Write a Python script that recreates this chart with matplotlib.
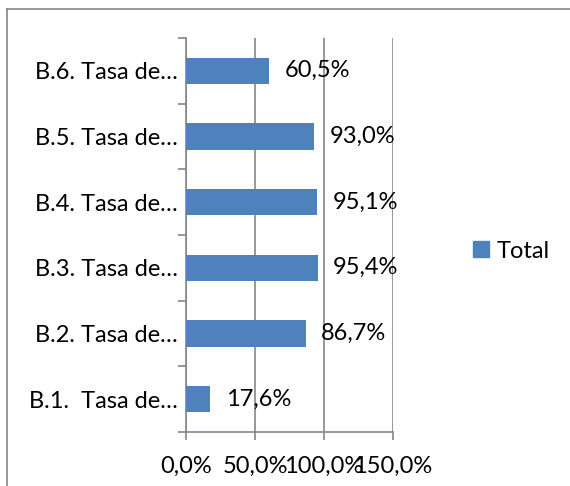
import matplotlib
matplotlib.use('Agg')
import matplotlib.pyplot as plt
from matplotlib.lines import Line2D
from matplotlib.patches import Rectangle

# Chart data (bottom to top, as drawn)
categories = ['B.1.  Tasa de\u2026', 'B.2. Tasa de\u2026', 'B.3. Tasa de\u2026',
              'B.4. Tasa de\u2026', 'B.5. Tasa de\u2026', 'B.6. Tasa de\u2026']
values = [17.6, 86.7, 95.4, 95.1, 93.0, 60.5]
x_ticks = [0, 50, 100, 150]
x_tick_labels = ['0,0%', '50,0%', '100,0%', '150,0%']
series_name = 'Total'

BAR_COLOR = '#4F81BD'
GRID_COLOR = '#868686'
FONT = 'Lato'
FS = 17

plt.rcParams['font.family'] = [FONT, 'DejaVu Sans']

fig = plt.figure(figsize=(5.70, 4.86), dpi=100)
ax = fig.add_axes([186 / 570, 1 - 432 / 486, 207 / 570, 394 / 486])

y = list(range(len(categories)))
ax.barh(y, values, height=0.4, color=BAR_COLOR, zorder=3)

# Data labels to the right of each bar
for yi, v in zip(y, values):
    ax.annotate(('%.1f%%' % v).replace('.', ','), (v, yi), xytext=(11, 0),
                textcoords='offset points', va='center', ha='left',
                fontsize=FS, color='black', zorder=4)

ax.set_xlim(0, 150)
ax.set_ylim(-0.5, len(categories) - 0.5)
ax.set_xticks(x_ticks)
ax.set_xticklabels(x_tick_labels, fontsize=FS)
ax.set_yticks(y)
ax.set_yticklabels(categories, fontsize=FS)

# Category boundary ticks on the y axis (Excel style)
ax.set_yticks([i - 0.5 for i in range(len(categories) + 1)], minor=True)
ax.tick_params(axis='y', which='major', length=0, pad=6)
ax.tick_params(axis='y', which='minor', length=6, width=1.2, color=GRID_COLOR)
ax.tick_params(axis='x', which='major', length=6, width=1.2, color=GRID_COLOR, pad=11)

ax.xaxis.grid(True, color=GRID_COLOR, linewidth=1.2, zorder=0)
ax.set_axisbelow(True)

for side in ['top', 'right']:
    ax.spines[side].set_visible(False)
for side in ['left', 'bottom']:
    ax.spines[side].set_color(GRID_COLOR)
    ax.spines[side].set_linewidth(1.2)

# Legend on the right
handle = Rectangle((0, 0), 1, 1, color=BAR_COLOR)
fig.legend([handle], [series_name], loc='center left',
           bbox_to_anchor=(452 / 570, 1 - 251 / 486), frameon=False,
           fontsize=FS, handlelength=0.65, handleheight=0.65,
           handletextpad=0.35)

# Chart frame (only top and left edges visible in the crop)
fig.add_artist(Line2D([7 / 570, 1], [1 - 9 / 486, 1 - 9 / 486],
                      color=GRID_COLOR, linewidth=1.2))
fig.add_artist(Line2D([7 / 570, 7 / 570], [0, 1 - 9 / 486],
                      color=GRID_COLOR, linewidth=1.2))

fig.savefig('out.png', dpi=100)
